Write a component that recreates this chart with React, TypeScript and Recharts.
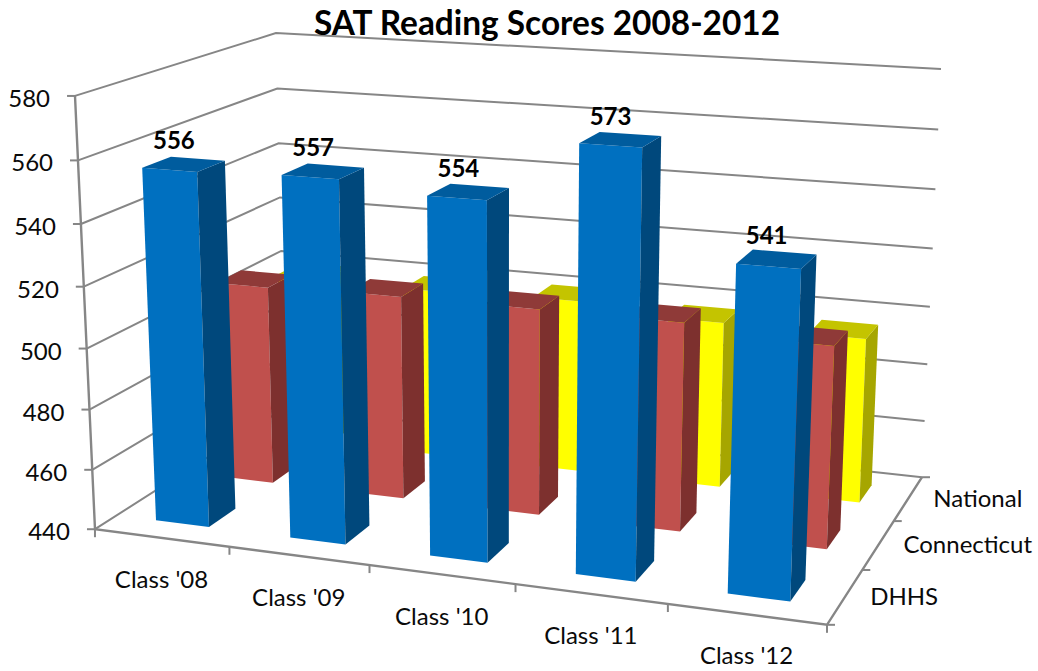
import React from 'react';
import { Bar, BarChart, CartesianGrid, Customized, LabelList, XAxis, YAxis } from 'recharts';

const classes = ["Class '08", "Class '09", "Class '10", "Class '11", "Class '12"];
const dhhs = [556, 557, 554, 573, 541];
const connecticut = [508, 509, 509, 509, 506];
const national = [500, 499, 500, 497, 496];
const depthLabels = ['DHHS', 'Connecticut', 'National'];
const yTicks = [440, 460, 480, 500, 520, 540, 560, 580];

const chartData = classes.map((name, i) => ({
  name,
  dhhs: dhhs[i],
  connecticut: connecticut[i],
  national: national[i],
}));

const W = 1038;
const H = 671;
// the axes take 1px each, so the plot area stays at 100..938 x 50..621
const margin = { top: 50, right: 100, bottom: 49, left: 99 };
const plotLeft = 100;
const plotW = 838;
const plotTop = 50;
const plotH = 571;

const FONT = 'Lato, sans-serif';
const GRID = '#868686';

// where the corners of the 3D box land on screen: [u, v, d, screenX, screenY]
const corners = [
  [0, 0, 0, 95, 529],
  [1, 0, 0, 827, 625],
  [1, 0, 1, 922, 477],
  [0, 0, 1, 285, 408],
  [0, 1, 0, 75, 96],
  [0, 1, 1, 276, 33],
  [1, 1, 1, 941, 69],
];

// least squares fit of a projective camera to the corners
const fitCamera = () => {
  const rows: number[][] = [];
  const rhs: number[] = [];
  corners.forEach(([u, v, d, sx, sy]) => {
    const x = sx / 1000;
    const y = sy / 1000;
    rows.push([u, v, d, 1, 0, 0, 0, 0, -x * u, -x * v, -x * d]);
    rhs.push(x);
    rows.push([0, 0, 0, 0, u, v, d, 1, -y * u, -y * v, -y * d]);
    rhs.push(y);
  });
  const n = 11;
  const m = Array.from({ length: n }, (_, i) =>
    Array.from({ length: n + 1 }, (_, j) =>
      rows.reduce((s, r, k) => s + r[i] * (j === n ? rhs[k] : r[j]), 0)
    )
  );
  for (let i = 0; i < n; i++) {
    let p = i;
    for (let r = i + 1; r < n; r++) if (Math.abs(m[r][i]) > Math.abs(m[p][i])) p = r;
    [m[i], m[p]] = [m[p], m[i]];
    for (let r = 0; r < n; r++) {
      if (r === i) continue;
      const f = m[r][i] / m[i][i];
      for (let c = i; c <= n; c++) m[r][c] -= f * m[i][c];
    }
  }
  return m.map((row, i) => row[n] / row[i]);
};

const cam = fitCamera();

const project = (u: number, v: number, d: number): [number, number] => {
  const w = cam[8] * u + cam[9] * v + cam[10] * d + 1;
  return [
    (1000 * (cam[0] * u + cam[1] * v + cam[2] * d + cam[3])) / w,
    (1000 * (cam[4] * u + cam[5] * v + cam[6] * d + cam[7])) / w,
  ];
};

const toU = (x: number) => (x - plotLeft) / plotW;
const toV = (y: number) => (plotTop + plotH - y) / plotH;

const poly = (pts: [number, number][]) => pts.map((p) => `${p[0].toFixed(1)},${p[1].toFixed(1)}`).join(' ');
const line = (pts: [number, number][]) => `M${pts.map((p) => `${p[0].toFixed(1)} ${p[1].toFixed(1)}`).join('L')}`;

type Faces = { front: string; side: string; top: string };

// each series sits in its own row on the depth axis
const makeBox = (row: number, faces: Faces) => (props: any) => {
  const { x, y, width, height } = props;
  const u0 = toU(x);
  const u1 = toU(x + width);
  const v1 = toV(y);
  const v0 = toV(y + height);
  const d0 = (row + 0.3) / 3;
  const d1 = (row + 0.7) / 3;
  return (
    <g>
      <polygon points={poly([project(u0, v0, d0), project(u1, v0, d0), project(u1, v1, d0), project(u0, v1, d0)])} fill={faces.front} />
      <polygon points={poly([project(u1, v0, d0), project(u1, v0, d1), project(u1, v1, d1), project(u1, v1, d0)])} fill={faces.side} />
      <polygon points={poly([project(u0, v1, d0), project(u1, v1, d0), project(u1, v1, d1), project(u0, v1, d1)])} fill={faces.top} />
    </g>
  );
};

const blueBox = makeBox(0, { front: '#0070c0', side: '#00487c', top: '#005c9e' });
const redBox = makeBox(1, { front: '#c0504d', side: '#7d302e', top: '#8f3a38' });
const yellowBox = makeBox(2, { front: '#ffff00', side: '#a6a600', top: '#c4c400' });

const GridLine = (props: any) => {
  const v = toV(props.y1);
  return (
    <path
      key={props.key ?? v}
      d={line([project(0, v, 0), project(0, v, 1), project(1, v, 1)])}
      fill="none"
      stroke={GRID}
      strokeWidth={2}
    />
  );
};

const ValueTick = (props: any) => {
  const v = toV(props.y);
  const [x, y] = project(0, v, 0);
  return (
    <g>
      <line x1={x - 8} y1={y} x2={x} y2={y} stroke={GRID} strokeWidth={2} />
      <text x={x - 25} y={y + 11} textAnchor="end" fontFamily={FONT} fontSize={24} fill="#0a0a0a">
        {props.payload.value}
      </text>
    </g>
  );
};

const ClassTick = (props: any) => {
  const [x, y] = project(toU(props.x), 0, 0);
  return (
    <text x={x} y={y + 50} textAnchor="middle" fontFamily={FONT} fontSize={24} fill="#0a0a0a">
      {props.payload.value}
    </text>
  );
};

const TopLabel = (props: any) => {
  const { x, y, width, value } = props;
  const [px, py] = project(toU(x + width / 2), toV(y), 0.167);
  return (
    <text x={px - 10} y={py - 15} textAnchor="middle" fontFamily={FONT} fontSize={24} fontWeight={700} fill="#000">
      {value}
    </text>
  );
};

// the floor edges, their tick marks and the series names on the depth axis
const Frame = () => (
  <g>
    <path d={line([project(0, 1, 0), project(0, 0, 0), project(1, 0, 0), project(1, 0, 1)])} fill="none" stroke={GRID} strokeWidth={2.4} />
    {[0, 1, 2, 3, 4, 5].map((k) => {
      const [x, y] = project(k / classes.length, 0, 0);
      return <line key={k} x1={x} y1={y} x2={x} y2={y + 8} stroke={GRID} strokeWidth={2} />;
    })}
    {[0, 1, 2, 3].map((k) => {
      const [x, y] = project(1, 0, k / depthLabels.length);
      return <line key={k} x1={x} y1={y} x2={x + 8} y2={y} stroke={GRID} strokeWidth={2} />;
    })}
    {depthLabels.map((name, k) => {
      const [x, y] = project(1, 0, (k + 0.5) / depthLabels.length);
      return (
        <text key={name} x={x + 25} y={y + 8} fontFamily={FONT} fontSize={24} fill="#0a0a0a">
          {name}
        </text>
      );
    })}
    <text x={547} y={35} textAnchor="middle" fontFamily={FONT} fontSize={33.4} fontWeight={700} fill="#000">
      SAT Reading Scores 2008-2012
    </text>
  </g>
);

export default function App() {
  return (
    <div style={{ position: 'absolute', left: 0, top: 0, width: W, height: H, background: '#fff' }}>
      <BarChart width={W} height={H} data={chartData} margin={margin} barCategoryGap="30%">
        <CartesianGrid vertical={false} horizontal={GridLine} />
        <XAxis xAxisId={0} dataKey="name" height={1} axisLine={false} tickLine={false} tick={ClassTick} interval={0} />
        <XAxis xAxisId={1} dataKey="name" hide />
        <XAxis xAxisId={2} dataKey="name" hide />
        <YAxis domain={[440, 580]} ticks={yTicks} width={1} axisLine={false} tickLine={false} tick={ValueTick} interval={0} />
        <Customized component={Frame} />
        <Bar xAxisId={2} dataKey="national" shape={yellowBox} isAnimationActive={false} />
        <Bar xAxisId={1} dataKey="connecticut" shape={redBox} isAnimationActive={false} />
        <Bar xAxisId={0} dataKey="dhhs" shape={blueBox} isAnimationActive={false}>
          <LabelList dataKey="dhhs" content={TopLabel} />
        </Bar>
      </BarChart>
    </div>
  );
}
